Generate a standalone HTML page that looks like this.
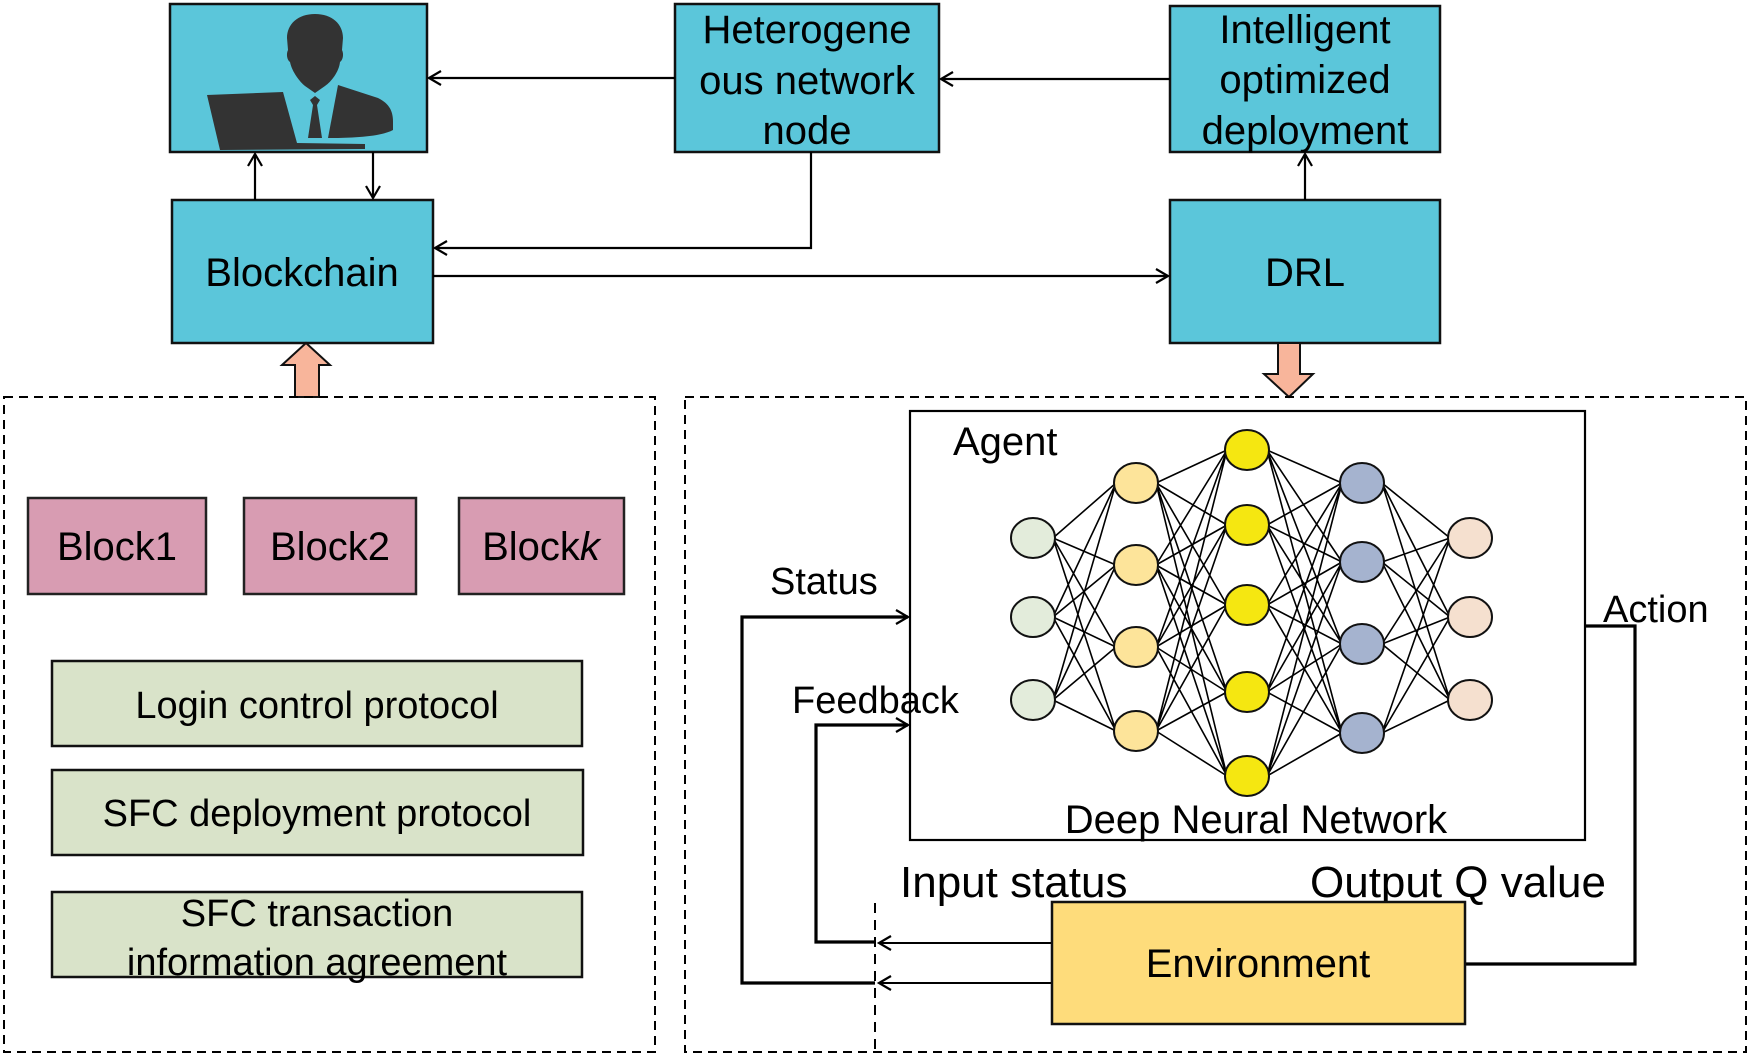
<!DOCTYPE html>
<html><head><meta charset="utf-8"><style>
html,body{margin:0;padding:0;background:#fff;}
svg{display:block;}
text{font-family:"Liberation Sans",Arial,sans-serif;fill:#000;}
</style></head><body>
<svg width="1750" height="1056" viewBox="0 0 1750 1056" xmlns="http://www.w3.org/2000/svg">
<defs>
<marker id="a" markerWidth="20" markerHeight="20" refX="14" refY="8" orient="auto" markerUnits="userSpaceOnUse">
<path d="M2,1 L14,8 L2,15" fill="none" stroke="#000" stroke-width="2.2"/>
</marker>
</defs>

<rect x="170" y="4" width="257" height="148" fill="#5bc6da" stroke="#111" stroke-width="2.5"/>
<rect x="675" y="4" width="264" height="148" fill="#5bc6da" stroke="#111" stroke-width="2.5"/>
<rect x="1170" y="6" width="270" height="146" fill="#5bc6da" stroke="#111" stroke-width="2.5"/>
<rect x="172" y="200" width="261" height="143" fill="#5bc6da" stroke="#111" stroke-width="2.5"/>
<rect x="1170" y="200" width="270" height="143" fill="#5bc6da" stroke="#111" stroke-width="2.5"/>

<g fill="#333">
<path d="M315,14 C298,14 287,24 287,38 L288,50 C286,54 287,60 290,62 C292,72 300,82 305,86 L315,93 L325,86 C331,82 339,72 340,62 C343,60 344,54 342,50 L343,38 C343,24 332,14 315,14 Z"/>
<path d="M338,85 L378,98 C390,104 393,112 393,122 L393,130 C380,137 350,138 328,138 Z"/>
<path d="M310,100 L315,96 L320,100 L317,105 L322,138 L308,138 L313,105 Z"/>
<path d="M207,95 L283,92 L297,143 L365,144 L365,149 L220,150 Z"/>
</g>

<text x="807" y="43" font-size="40" text-anchor="middle">Heterogene</text>
<text x="807" y="94" font-size="40" text-anchor="middle">ous network</text>
<text x="807" y="144" font-size="40" text-anchor="middle">node</text>
<text x="1305" y="43" font-size="40" text-anchor="middle">Intelligent</text>
<text x="1305" y="93" font-size="40" text-anchor="middle">optimized</text>
<text x="1305" y="144" font-size="40" text-anchor="middle">deployment</text>
<text x="302" y="286" font-size="40" text-anchor="middle">Blockchain</text>
<text x="1305" y="286" font-size="40" text-anchor="middle">DRL</text>

<g stroke="#000" stroke-width="2.2" fill="none">
<line x1="675" y1="78" x2="429" y2="78" marker-end="url(#a)"/>
<line x1="1170" y1="79" x2="941" y2="79" marker-end="url(#a)"/>
<line x1="255" y1="200" x2="255" y2="154" marker-end="url(#a)"/>
<line x1="373" y1="152" x2="373" y2="198" marker-end="url(#a)"/>
<polyline points="811,152 811,248 435,248" marker-end="url(#a)"/>
<line x1="433" y1="276" x2="1168" y2="276" marker-end="url(#a)"/>
<line x1="1305" y1="200" x2="1305" y2="154" marker-end="url(#a)"/>
</g>

<polygon points="306,343 330,365 319,365 319,397 295,397 295,365 282,365" fill="#f8b59b" stroke="#111" stroke-width="2"/>
<polygon points="1278,343 1300,343 1300,374 1313,374 1289,397 1264,374 1278,374" fill="#f8b59b" stroke="#111" stroke-width="2"/>

<rect x="4" y="397" width="651" height="655" fill="none" stroke="#000" stroke-width="2" stroke-dasharray="9,6"/>
<rect x="685" y="397" width="1061" height="655" fill="none" stroke="#000" stroke-width="2" stroke-dasharray="9,6"/>

<rect x="28" y="498" width="178" height="96" fill="#d89cb2" stroke="#222" stroke-width="2.5"/>
<rect x="244" y="498" width="172" height="96" fill="#d89cb2" stroke="#222" stroke-width="2.5"/>
<rect x="459" y="498" width="165" height="96" fill="#d89cb2" stroke="#222" stroke-width="2.5"/>
<text x="117" y="560" font-size="40" text-anchor="middle">Block1</text>
<text x="330" y="560" font-size="40" text-anchor="middle">Block2</text>
<text x="541" y="560" font-size="40" text-anchor="middle">Block<tspan font-style="italic">k</tspan></text>

<rect x="52" y="661" width="530" height="85" fill="#d9e3c9" stroke="#111" stroke-width="2.5"/>
<rect x="52" y="770" width="531" height="85" fill="#d9e3c9" stroke="#111" stroke-width="2.5"/>
<rect x="52" y="892" width="530" height="85" fill="#d9e3c9" stroke="#111" stroke-width="2.5"/>
<text x="317" y="718" font-size="38" text-anchor="middle">Login control protocol</text>
<text x="317" y="826" font-size="38" text-anchor="middle">SFC deployment protocol</text>
<text x="317" y="926" font-size="38" text-anchor="middle">SFC transaction</text>
<text x="317" y="975" font-size="38" text-anchor="middle">information agreement</text>

<rect x="910" y="411" width="675" height="429" fill="#fff" stroke="#000" stroke-width="2.2"/>
<text x="953" y="455" font-size="40">Agent</text>
<text x="1256" y="833" font-size="40" text-anchor="middle">Deep Neural Network</text>

<path stroke="#000" stroke-width="1.6" fill="none" d="
M1053 538L1116 483M1053 538L1116 565M1053 538L1116 647M1053 538L1116 731
M1053 617L1116 483M1053 617L1116 565M1053 617L1116 647M1053 617L1116 731
M1053 700L1116 483M1053 700L1116 565M1053 700L1116 647M1053 700L1116 731
M1156 483L1227 450M1156 483L1227 525M1156 483L1227 605M1156 483L1227 692M1156 483L1227 776
M1156 565L1227 450M1156 565L1227 525M1156 565L1227 605M1156 565L1227 692M1156 565L1227 776
M1156 647L1227 450M1156 647L1227 525M1156 647L1227 605M1156 647L1227 692M1156 647L1227 776
M1156 731L1227 450M1156 731L1227 525M1156 731L1227 605M1156 731L1227 692M1156 731L1227 776
M1267 450L1342 483M1267 450L1342 562M1267 450L1342 644M1267 450L1342 733
M1267 525L1342 483M1267 525L1342 562M1267 525L1342 644M1267 525L1342 733
M1267 605L1342 483M1267 605L1342 562M1267 605L1342 644M1267 605L1342 733
M1267 692L1342 483M1267 692L1342 562M1267 692L1342 644M1267 692L1342 733
M1267 776L1342 483M1267 776L1342 562M1267 776L1342 644M1267 776L1342 733
M1382 483L1450 538M1382 483L1450 617M1382 483L1450 700
M1382 562L1450 538M1382 562L1450 617M1382 562L1450 700
M1382 644L1450 538M1382 644L1450 617M1382 644L1450 700
M1382 733L1450 538M1382 733L1450 617M1382 733L1450 700"/>

<g stroke="#111" stroke-width="2">
<g fill="#e3ecdb"><ellipse cx="1033" cy="538" rx="22" ry="20"/><ellipse cx="1033" cy="617" rx="22" ry="20"/><ellipse cx="1033" cy="700" rx="22" ry="20"/></g>
<g fill="#fde49a"><ellipse cx="1136" cy="483" rx="22" ry="20"/><ellipse cx="1136" cy="565" rx="22" ry="20"/><ellipse cx="1136" cy="647" rx="22" ry="20"/><ellipse cx="1136" cy="731" rx="22" ry="20"/></g>
<g fill="#f5e711"><ellipse cx="1247" cy="450" rx="22" ry="20"/><ellipse cx="1247" cy="525" rx="22" ry="20"/><ellipse cx="1247" cy="605" rx="22" ry="20"/><ellipse cx="1247" cy="692" rx="22" ry="20"/><ellipse cx="1247" cy="776" rx="22" ry="20"/></g>
<g fill="#a5b3cf"><ellipse cx="1362" cy="483" rx="22" ry="20"/><ellipse cx="1362" cy="562" rx="22" ry="20"/><ellipse cx="1362" cy="644" rx="22" ry="20"/><ellipse cx="1362" cy="733" rx="22" ry="20"/></g>
<g fill="#f5e0cf"><ellipse cx="1470" cy="538" rx="22" ry="20"/><ellipse cx="1470" cy="617" rx="22" ry="20"/><ellipse cx="1470" cy="700" rx="22" ry="20"/></g>
</g>

<g stroke="#000" fill="none">
<polyline points="875,983 742,983 742,617 908,617" stroke-width="3.2" marker-end="url(#a)"/>
<polyline points="875,942 816,942 816,725 908,725" stroke-width="3.2" marker-end="url(#a)"/>
<line x1="875" y1="903" x2="875" y2="1052" stroke-width="2" stroke-dasharray="10,7"/>
<line x1="1052" y1="943" x2="879" y2="943" stroke-width="2" marker-end="url(#a)"/>
<line x1="1052" y1="983" x2="879" y2="983" stroke-width="2" marker-end="url(#a)"/>
<polyline points="1585,626 1635,626 1635,964 1465,964" stroke-width="3.2"/>
</g>
<text x="770" y="594" font-size="38">Status</text>
<text x="792" y="713" font-size="38">Feedback</text>
<text x="1603" y="622" font-size="38">Action</text>
<text x="900" y="897" font-size="44">Input status</text>
<text x="1310" y="897" font-size="44">Output Q value</text>

<rect x="1052" y="902" width="413" height="122" fill="#fedc7b" stroke="#111" stroke-width="2.5"/>
<text x="1258" y="977" font-size="40" text-anchor="middle">Environment</text>
</svg>
</body></html>
